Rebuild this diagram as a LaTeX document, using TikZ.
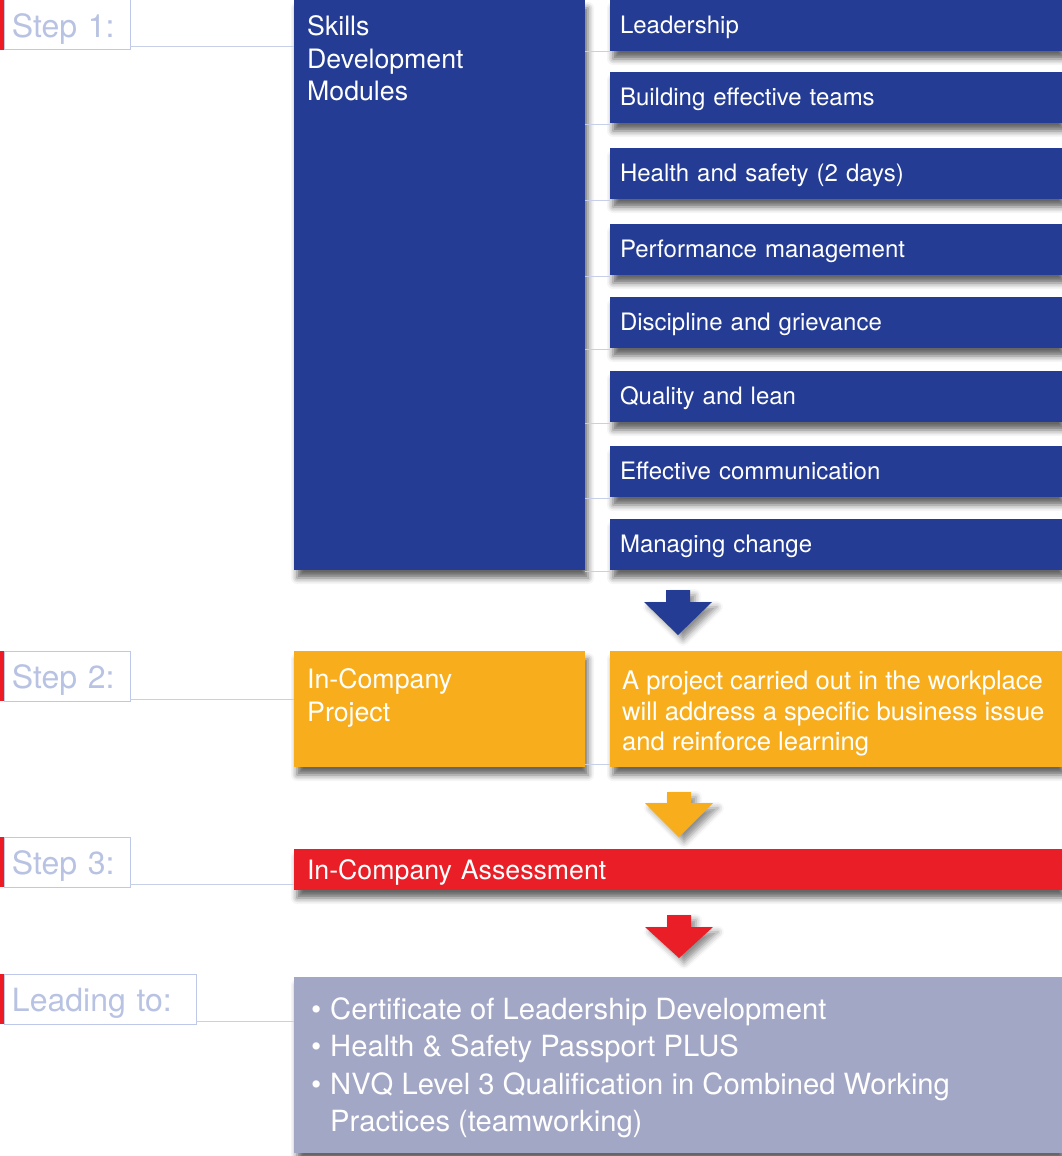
\documentclass[tikz,border=0pt]{standalone}
\usepackage{fontspec}
\setmainfont{TeX Gyre Heros}
\usetikzlibrary{shadows.blur}
\definecolor{cblue}{RGB}{37,60,148}
\definecolor{corange}{RGB}{248,174,28}
\definecolor{cred}{RGB}{234,30,38}
\definecolor{clav}{RGB}{163,167,198}
\definecolor{clbltext}{RGB}{184,194,226}
\definecolor{clblline}{RGB}{190,200,232}
\definecolor{cbar}{RGB}{237,28,36}
\definecolor{cconn}{RGB}{200,208,232}
\tikzset{
  boxshadow/.style={blur shadow={shadow xshift=3pt, shadow yshift=-8pt, shadow blur radius=6pt, shadow opacity=60}},
  arrshadow/.style={blur shadow={shadow xshift=5pt, shadow yshift=-5pt, shadow blur radius=6pt, shadow opacity=45}},
  box/.style={anchor=north west, inner sep=0pt, outer sep=0pt, draw=none, text=white, align=left, boxshadow},
  rbox/.style={box, fill=cblue, minimum width=452pt, minimum height=51pt, inner xsep=10pt, text width=432pt,
    text height=33.6pt, text depth=17.4pt, font=\fontsize{24}{30.5}\selectfont},
  lbl/.style={anchor=north west, draw=clblline, line width=1pt, inner sep=0pt, inner xsep=8pt, outer sep=0pt,
    align=left, minimum height=50pt, text height=37.3pt, text depth=12.7pt, text=clbltext,
    font=\fontsize{32}{36}\selectfont},
  lbltext/.style={anchor=north west, inner sep=0pt, text=white, align=left, font=\fontsize{26.7}{32.5}\selectfont},
  conn/.style={draw=cconn, line width=1pt},
}
\begin{document}
\begin{tikzpicture}[x=1pt, y=-1pt]
\useasboundingbox (0,0) rectangle (1062,1156);

% ---------- Step 1 ----------
\node[box, fill=cblue, minimum width=291pt, minimum height=570pt] (main) at (294,0) {};
\node[lbltext] (maint) at (307,15.5) {Skills\\Development\\Modules};

\node[rbox] (r1) at (610,0)   {Leadership};
\node[rbox] (r2) at (610,72)  {Building effective teams};
\node[rbox] (r3) at (610,148) {Health and safety (2 days)};
\node[rbox] (r4) at (610,224) {Performance management};
\node[rbox] (r5) at (610,297) {Discipline and grievance};
\node[rbox] (r6) at (610,371) {Quality and lean};
\node[rbox] (r7) at (610,446) {Effective communication};
\node[rbox] (r8) at (610,519) {Managing change};

\foreach \r in {r1,r2,r3,r4,r5,r6,r7,r8}
  \draw[conn] ([yshift=-1pt]\r.south west) -- ([yshift=-1pt]\r.south west -| main.east);

\node[lbl, text width=110pt] (l1) at (4,0) {Step 1:};
\fill[cbar] ([xshift=-4pt]l1.north west) rectangle (l1.south west);
\draw[conn] ([yshift=3pt]l1.south east) -- ([yshift=3pt]l1.south east -| main.west);

% arrow 1
\coordinate (a1) at (678,590);
\fill[cblue, arrshadow] (a1) ++(-12,0) -- ++(24,0) -- ++(0,12) -- ++(22,0) -- ++(-34,33) -- ++(-34,-33) -- ++(22,0) -- cycle;

% ---------- Step 2 ----------
\node[box, fill=corange, minimum width=291pt, minimum height=116pt] (p1) at (294,651) {};
\node[lbltext] (p1t) at (307,668.5) {In-Company\\Project};
\node[box, fill=corange, minimum width=452pt, minimum height=116pt] (p2) at (610,651) {};
\node[lbltext, font=\fontsize{25.6}{30.5}\selectfont] (p2t) at (622,671)
  {A project carried out in the workplace\\will address a specific business issue\\and reinforce learning};
\draw[conn] ([yshift=3pt]p2.south west) -- ([yshift=3pt]p2.south west -| p1.east);

\node[lbl, text width=110pt] (l2) at (4,651) {Step 2:};
\fill[cbar] ([xshift=-4pt]l2.north west) rectangle (l2.south west);
\draw[conn] ([yshift=2pt]l2.south east) -- ([yshift=2pt]l2.south east -| p1.west);

% arrow 2
\coordinate (a2) at (679,792);
\fill[corange, arrshadow] (a2) ++(-12,0) -- ++(24,0) -- ++(0,11) -- ++(22,0) -- ++(-34,34) -- ++(-34,-34) -- ++(22,0) -- cycle;

% ---------- Step 3 ----------
\node[box, fill=cred, minimum width=768pt, minimum height=41pt, inner xsep=13pt, text width=742pt,
  text height=30.5pt, text depth=10.5pt, font=\fontsize{26.7}{32.5}\selectfont] (asm) at (294,849) {In-Company Assessment};

\node[lbl, text width=110pt] (l3) at (4,837) {Step 3:};
\fill[cbar] ([xshift=-4pt]l3.north west) rectangle (l3.south west);
\draw[conn] ([yshift=3pt]l3.south east) -- ([yshift=3pt]l3.south east -| asm.west);

% arrow 3
\coordinate (a3) at (679,915);
\fill[cred, arrshadow] (a3) ++(-12,0) -- ++(24,0) -- ++(0,12) -- ++(22,0) -- ++(-34,31) -- ++(-34,-31) -- ++(22,0) -- cycle;

% ---------- Leading to ----------
\node[box, fill=clav, minimum width=768pt, minimum height=176pt] (res) at (294,977) {};
\node[lbltext, font=\fontsize{29.2}{37.5}\selectfont] (rest) at (311,997)
  {\makebox[19pt][l]{•}Certificate of Leadership Development\\
   \makebox[19pt][l]{•}Health \& Safety Passport PLUS\\
   \makebox[19pt][l]{•}NVQ Level 3 Qualification in Combined Working\\
   \hspace*{19pt}Practices (teamworking)};

\node[lbl, text width=176pt] (l4) at (4,974) {Leading to:};
\fill[cbar] ([xshift=-4pt]l4.north west) rectangle (l4.south west);
\draw[conn] ([yshift=3pt]l4.south east) -- ([yshift=3pt]l4.south east -| res.west);
\end{tikzpicture}
\end{document}
